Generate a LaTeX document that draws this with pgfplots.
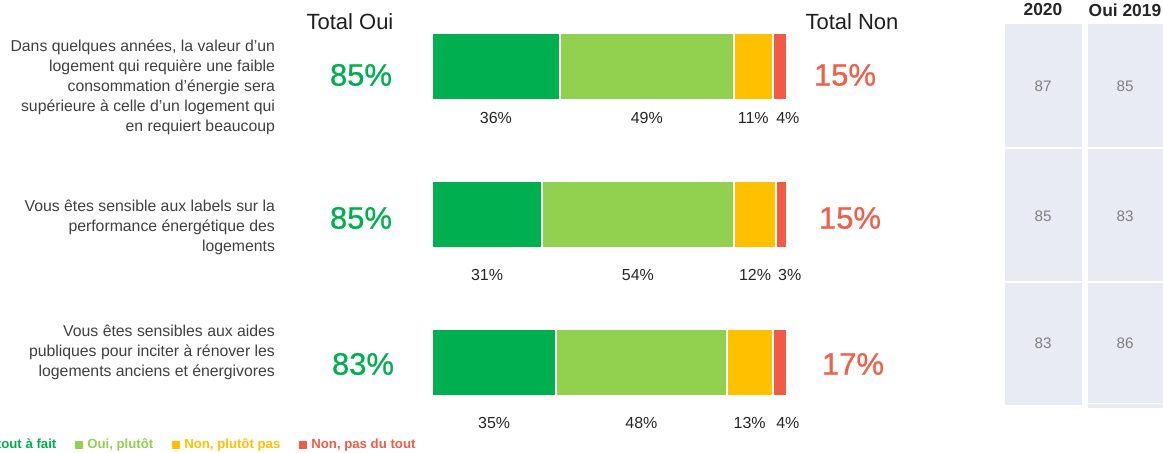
\documentclass[border=0pt]{standalone}
\usepackage{pgfplots}
\pgfplotsset{compat=1.18}
\usepackage{fontspec}
\setmainfont{Liberation Sans}
\newfontfamily\medium[FakeBold=0.7]{Liberation Sans}

\definecolor{vertfonce}{HTML}{00B050}
\definecolor{vertclair}{HTML}{92D050}
\definecolor{jaune}{HTML}{FFC000}
\definecolor{rouge}{HTML}{F05A46}
\definecolor{rougetxt}{HTML}{EF5F49}
\definecolor{texte}{HTML}{404040}
\definecolor{panneau}{HTML}{E8EAF4}
\definecolor{chiffre}{HTML}{808080}

\begin{document}
\begin{tikzpicture}
\begin{axis}[
    xbar stacked,
    scale only axis,
    width=177.5pt,
    height=177.6pt,
    xmin=0, xmax=100,
    ymin=-0.2, ymax=2.2,
    y dir=reverse,
    axis lines=none,
    clip=false,
    bar width=33.5pt,
    every axis plot/.append style={draw=white, line width=1pt},
    visualization depends on={rawx \as \segw},
    visualization depends on={rawy \as \rang},
    nodes near coords={\pgfmathprintnumber{\segw}\%},
    nodes near coords style={anchor=center, text=black!85,
        font=\fontsize{8}{9.6}\selectfont,
        /pgf/number format/assume math mode=true,
        xshift={(\segw<6)*4pt},
        yshift={-25.5pt-4.5pt*min(\rang,1)}},
    legend columns=4,
    legend style={draw=none, fill=none,
        at={(axis description cs:-1.360,-0.1475)}, anchor=west,
        font=\fontsize{6.6}{8}\selectfont\bfseries,
        /tikz/every even column/.append style={column sep=7.5pt}},
    legend image code/.code={\fill[#1, draw=none] (0pt,-2pt) rectangle (4pt,2pt);},
]
% Oui, tout a fait
\addplot[fill=vertfonce] coordinates {(36,0) (31,1) (35,2)};
% Oui, plutot
\addplot[fill=vertclair] coordinates {(49,0) (54,1) (48,2)};
% Non, plutot pas
\addplot[fill=jaune] coordinates {(11,0) (12,1) (13,2)};
% Non, pas du tout
\addplot[fill=rouge] coordinates {(4,0) (3,1) (4,2)};
\legend{\textcolor{vertfonce}{Oui, tout à fait},
        \textcolor{vertclair}{Oui, plutôt},
        \textcolor{jaune}{Non, plutôt pas},
        \textcolor{rouge}{Non, pas du tout}}
\end{axis}

% annotations, in reference pixels
\begin{scope}[shift={(-216pt,196.3pt)}, x=0.5pt, y=-0.5pt]
  \node[font=\fontsize{11}{13}\selectfont, text=black!88] at (350,22) {Total Oui};
  \node[font=\fontsize{11}{13}\selectfont, text=black!88] at (852,22) {Total Non};

  \tikzset{question/.style={anchor=east, align=right, text=texte,
      font=\fontsize{7.9}{10}\selectfont}}
  \node[question] at (282,87) {Dans quelques années, la valeur d’un\\
    logement qui requière une faible\\
    consommation d’énergie sera\\
    supérieure à celle d’un logement qui\\
    en requiert beaucoup};
  \node[question] at (282,227) {Vous êtes sensible aux labels sur la\\
    performance énergétique des\\
    logements};
  \node[question] at (282,352) {Vous êtes sensibles aux aides\\
    publiques pour inciter à rénover les\\
    logements anciens et énergivores};

  \tikzset{total/.style={font=\medium\fontsize{15.5}{18}\selectfont}}
  \node[total, text=vertfonce] at (361,75) {85\%};
  \node[total, text=vertfonce] at (361,218) {85\%};
  \node[total, text=vertfonce] at (363,364) {83\%};
  \node[total, text=rougetxt] at (845,75) {15\%};
  \node[total, text=rougetxt] at (850,218) {15\%};
  \node[total, text=rougetxt] at (853,364) {17\%};

  % historique
  \node[font=\fontsize{8.7}{10}\selectfont\bfseries, text=black!85] at (1043,10) {2020};
  \node[font=\fontsize{8.7}{10}\selectfont\bfseries, text=black!85] at (1125,10) {Oui 2019};
  \fill[panneau] (1005,24) rectangle (1082,147);
  \fill[panneau] (1005,149) rectangle (1082,281);
  \fill[panneau] (1005,283) rectangle (1082,405);
  \fill[panneau] (1088,24) rectangle (1170,147);
  \fill[panneau] (1088,149) rectangle (1170,281);
  \fill[panneau] (1088,283) rectangle (1170,403);
  \fill[panneau] (1088,404.5) rectangle (1170,408);
  \tikzset{hist/.style={text=chiffre, font=\fontsize{7.6}{9}\selectfont}}
  \node[hist] at (1043,86) {87};
  \node[hist] at (1125,86) {85};
  \node[hist] at (1043,216) {85};
  \node[hist] at (1125,216) {83};
  \node[hist] at (1043,343) {83};
  \node[hist] at (1125,343) {86};

  \pgfresetboundingbox
  \path[use as bounding box] (0,0) rectangle (1163,453);
\end{scope}
\end{tikzpicture}
\end{document}
